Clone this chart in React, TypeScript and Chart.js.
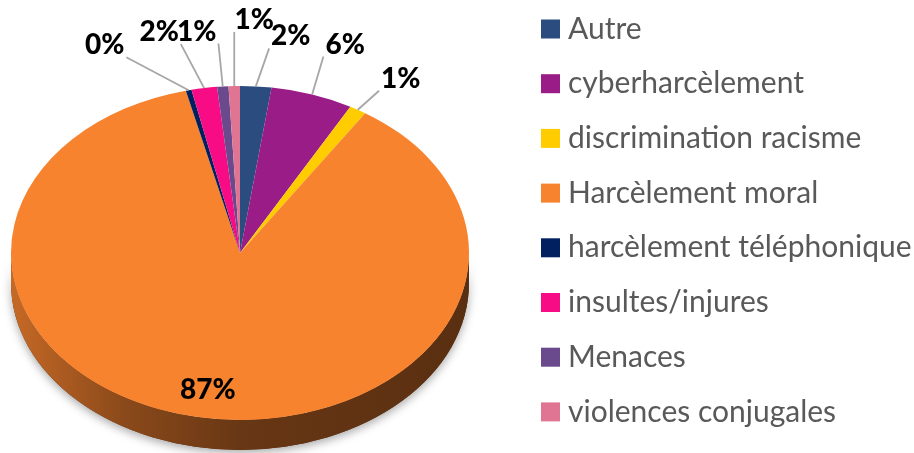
import React, { useEffect, useRef } from "react";
import { Chart, registerables } from "chart.js";

Chart.register(...registerables);

const categories = [
  "Autre",
  "cyberharcèlement",
  "discrimination racisme",
  "Harcèlement moral",
  "harcèlement téléphonique",
  "insultes/injures",
  "Menaces",
  "violences conjugales",
];
const shares = [2.2, 5.8, 1.2, 87.0, 0.4, 1.8, 0.8, 0.8];
const sliceColors = [
  "#2B4C7E",
  "#9A1C87",
  "#FFCC00",
  "#F7832F",
  "#002060",
  "#F70C85",
  "#6A4A8C",
  "#E07593",
];
// label nudges relative to the slice's outer anchor (layout only)
const labelOffsets = [
  [35, -50],
  [33, -50],
  [43, -31],
  [0, 0],
  [-84, -45],
  [-45, -56],
  [-26, -55],
  [20, -66],
];

const CX = 240;
const CY = 253;
const RX = 229;
const RY = 167;
const DEPTH = 30;
const FONT = "Lato, 'Open Sans', sans-serif";

function hexToRgb(h: string) {
  const n = parseInt(h.slice(1), 16);
  return [(n >> 16) & 255, (n >> 8) & 255, n & 255];
}
function shade(h: string, f: number) {
  const [r, g, b] = hexToRgb(h);
  return `rgb(${Math.round(r * f)},${Math.round(g * f)},${Math.round(b * f)})`;
}

function sidePath(ctx: CanvasRenderingContext2D, s: number, e: number) {
  ctx.beginPath();
  ctx.ellipse(CX, CY, RX, RY, 0, s, e, false);
  ctx.ellipse(CX, CY + DEPTH, RX, RY, 0, e, s, true);
  ctx.closePath();
}

const pie3d = {
  id: "pie3d",
  beforeDatasetsDraw(chart: any) {
    const ctx: CanvasRenderingContext2D = chart.ctx;
    const meta = chart.getDatasetMeta(0);
    const a0 = meta.data[0];
    const { x, y, outerRadius } = a0.getProps(["x", "y", "outerRadius"], true);

    // shadow under the rim
    ctx.save();
    ctx.shadowColor = "rgba(0,0,0,0.35)";
    ctx.shadowBlur = 10;
    ctx.shadowOffsetY = 3;
    sidePath(ctx, 0, Math.PI);
    ctx.fillStyle = "#5a3014";
    ctx.fill();
    ctx.restore();

    // side walls per slice
    ctx.save();
    meta.data.forEach((arc: any, i: number) => {
      const { startAngle, endAngle } = arc.getProps(["startAngle", "endAngle"], true);
      const col = sliceColors[i];
      for (const k of [-2 * Math.PI, 0, 2 * Math.PI]) {
        const s = Math.max(startAngle + k, 0);
        const e = Math.min(endAngle + k, Math.PI);
        if (e > s) {
          const g = ctx.createLinearGradient(CX - RX, 0, CX + RX, 0);
          g.addColorStop(0, shade(col, 0.8));
          g.addColorStop(0.25, shade(col, 0.56));
          g.addColorStop(0.5, shade(col, 0.42));
          g.addColorStop(1, shade(col, 0.36));
          sidePath(ctx, s, e);
          ctx.fillStyle = g;
          ctx.fill();
        }
      }
    });
    ctx.restore();

    // squash the library's pie into the top face ellipse
    ctx.save();
    ctx.translate(CX, CY);
    ctx.scale(RX / outerRadius, RY / outerRadius);
    ctx.translate(-x, -y);
  },
  afterDatasetsDraw(chart: any) {
    const ctx: CanvasRenderingContext2D = chart.ctx;
    ctx.restore();
    const meta = chart.getDatasetMeta(0);
    const total = shares.reduce((a, b) => a + b, 0);
    ctx.save();
    ctx.font = `900 28px ${FONT}`;
    ctx.textAlign = "center";
    ctx.textBaseline = "middle";
    meta.data.forEach((arc: any, i: number) => {
      const { startAngle, endAngle } = arc.getProps(["startAngle", "endAngle"], true);
      const mid = (startAngle + endAngle) / 2;
      const frac = shares[i] / total;
      const text = Math.round(frac * 100) + "%";
      if (frac > 0.3) {
        const rho = 0.83;
        const lx = CX + RX * rho * Math.cos(mid);
        const ly = CY + RY * rho * Math.sin(mid);
        ctx.fillStyle = "#000";
        ctx.fillText(text, lx, ly);
        return;
      }
      const ax = CX + RX * Math.cos(mid);
      const ay = CY + RY * Math.sin(mid);
      const lx = ax + labelOffsets[i][0];
      const ly = ay + labelOffsets[i][1];
      const w = ctx.measureText(text).width;
      const bx0 = lx - w / 2 - 2;
      const bx1 = lx + w / 2 + 2;
      const by0 = ly - 12;
      const by1 = ly + 12;
      const px = Math.min(Math.max(ax, bx0), bx1);
      const py = Math.min(Math.max(ay, by0), by1);
      if (Math.hypot(ax - px, ay - py) > 6) {
        ctx.beginPath();
        ctx.moveTo(px, py);
        ctx.lineTo(ax, ay);
        ctx.strokeStyle = "#A6A6A6";
        ctx.lineWidth = 1.8;
        ctx.stroke();
      }
      ctx.fillStyle = "#000";
      ctx.fillText(text, lx, ly);
    });
    ctx.restore();
  },
};

const legendPlugin = {
  id: "customLegend",
  afterDraw(chart: any) {
    const ctx: CanvasRenderingContext2D = chart.ctx;
    ctx.save();
    ctx.font = `30px ${FONT}`;
    ctx.textAlign = "left";
    ctx.textBaseline = "middle";
    categories.forEach((c, i) => {
      const yc = 29 + 54.7 * i;
      ctx.fillStyle = sliceColors[i];
      ctx.fillRect(541, yc - 9.5, 19, 19);
      ctx.fillStyle = "#595959";
      ctx.fillText(c, 568, yc);
    });
    ctx.restore();
  },
};

export default function App() {
  const ref = useRef<HTMLCanvasElement>(null);
  useEffect(() => {
    const chart = new Chart(ref.current as HTMLCanvasElement, {
      type: "pie",
      data: {
        labels: categories,
        datasets: [
          {
            data: shares,
            backgroundColor: sliceColors,
            borderWidth: 0,
            clip: false,
          } as any,
        ],
      },
      options: {
        responsive: false,
        animation: false,
        events: [],
        layout: { padding: 0 },
        plugins: {
          legend: { display: false },
          tooltip: { enabled: false },
        },
      },
      plugins: [pie3d, legendPlugin],
    });
    return () => chart.destroy();
  }, []);
  return (
    <div style={{ position: "absolute", left: 0, top: 0, width: 914, height: 453, background: "#fff" }}>
      <canvas ref={ref} width={914} height={453} style={{ width: 914, height: 453, display: "block" }} />
    </div>
  );
}
